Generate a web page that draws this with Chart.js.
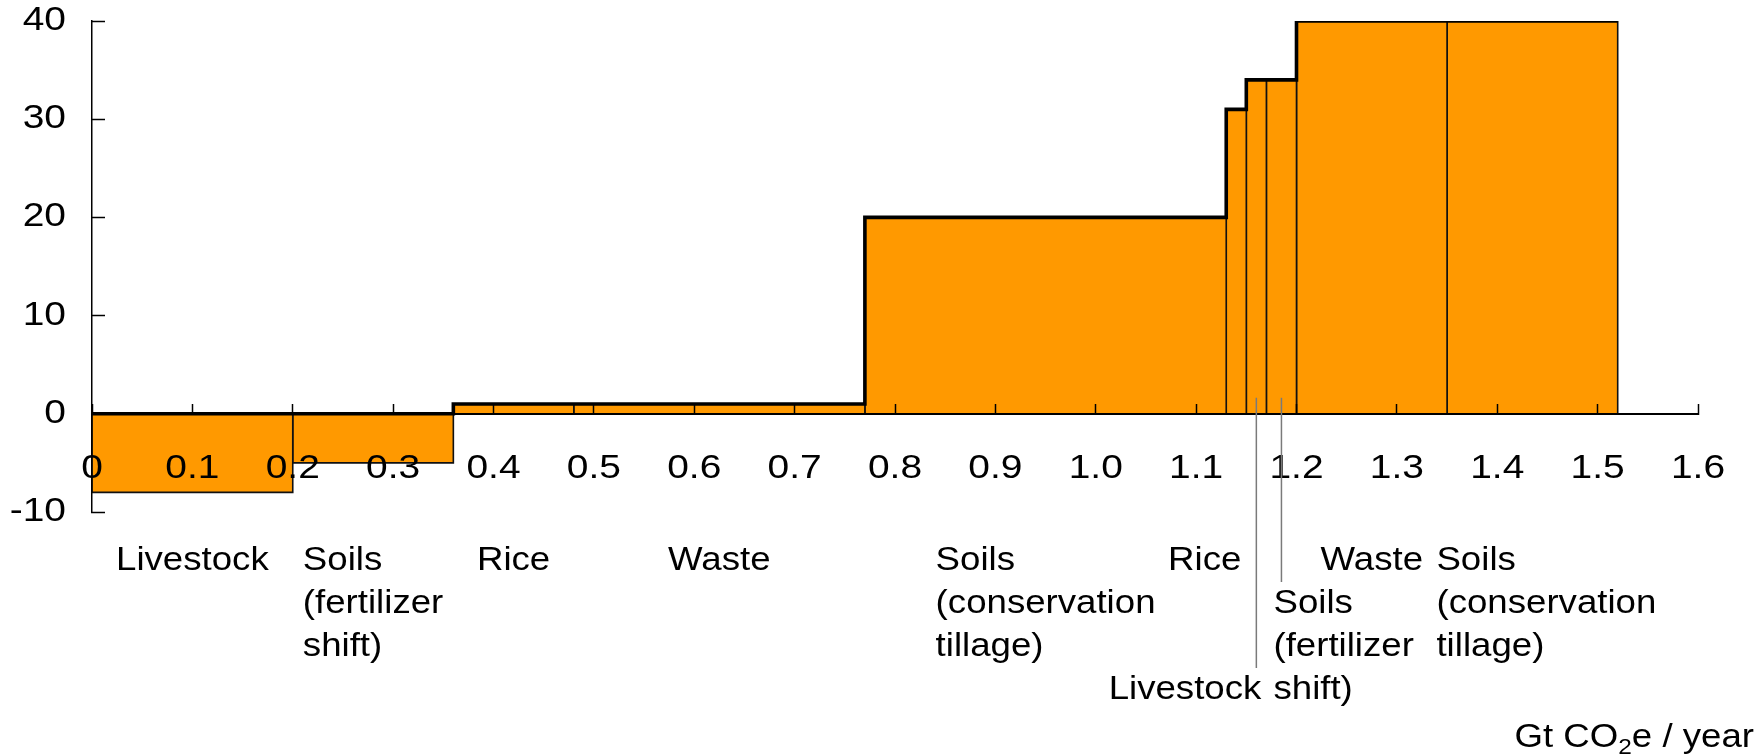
<!DOCTYPE html>
<html>
<head>
<meta charset="utf-8">
<script src="https://cdn.jsdelivr.net/npm/chart.js@4.4.1/dist/chart.umd.min.js"></script>
<style>
  html, body { margin: 0; padding: 0; background: #ffffff; }
  #wrap { width: 1756px; height: 756px; }
</style>
</head>
<body>
<div id="wrap"><canvas id="mac" width="1756" height="756"></canvas></div>
<script>
// Abatement options, in the order they are stacked along the curve
const categories = ['Livestock', 'Soils (fertilizer shift)', 'Rice', 'Waste', 'Soils (conservation tillage)',
                    'Rice', 'Livestock', 'Soils (fertilizer shift)', 'Waste', 'Soils (conservation tillage)'];
// How each option name is broken into lines under the curve
const labelLines = [['Livestock'], ['Soils', '(fertilizer', 'shift)'], ['Rice'], ['Waste'],
                    ['Soils', '(conservation', 'tillage)'], ['Rice'], ['Livestock'],
                    ['Soils', '(fertilizer', 'shift)'], ['Waste'], ['Soils', '(conservation', 'tillage)']];
// Abatement potential of each option, Gt CO2e / year (bar widths)
const potentials = [0.20, 0.16, 0.12, 0.29, 0.36, 0.02, 0.02, 0.03, 0.15, 0.17];
// Cost of each option (bar heights)
const costs = [-8, -5, 1, 1, 20, 31, 34, 34, 40, 40];
// Axis tick labels
const xTickLabels = ['0', '0.1', '0.2', '0.3', '0.4', '0.5', '0.6', '0.7', '0.8', '0.9',
                     '1.0', '1.1', '1.2', '1.3', '1.4', '1.5', '1.6'];
const yTickLabels = ['-10', '0', '10', '20', '30', '40'];

// Where each label sits: text row, horizontal placement and whether it needs a leader line
const labelLayout = [
  { row: 0, mode: 'block' },
  { row: 0, mode: 'block' },
  { row: 0, mode: 'block' },
  { row: 0, mode: 'block' },
  { row: 0, mode: 'block' },
  { row: 0, mode: 'right', ref: 'end', dx: -5 },
  { row: 3, mode: 'right', ref: 'center', dx: 5, leader: true },
  { row: 1, mode: 'left', ref: 'center', dx: -8, leader: true },
  { row: 0, mode: 'block' },
  { row: 0, mode: 'block', dx: 14 }
];

// Cumulative start / end of every bar along the x axis
const starts = [];
const ends = [];
potentials.reduce((acc, w, i) => { starts[i] = acc; ends[i] = acc + w; return acc + w; }, 0);

const FONT = '"Liberation Sans", Arial, Helvetica, sans-serif';
const ORANGE = '#FF9900';
const LABEL_WIDEN = 1.11;   // horizontal stretch of the option names
const TICK_WIDEN = 1.18;    // horizontal stretch of the axis numbers

// One filled rectangle per option
const barSets = costs.map((c, i) => ({
  label: categories[i],
  data: [
    { x: starts[i], y: 0 },
    { x: starts[i], y: c },
    { x: ends[i], y: c },
    { x: ends[i], y: 0 }
  ],
  borderColor: '#111111',
  borderWidth: 1.6,
  backgroundColor: ORANGE,
  fill: 'origin',
  pointRadius: 0,
  tension: 0,
  borderJoinStyle: 'miter',
  order: 1
}));

// Heavy outline tracing the top of the curve (never below zero)
const outline = [];
costs.forEach((c, i) => {
  const h = Math.max(c, 0);
  outline.push({ x: starts[i], y: h }, { x: ends[i], y: h });
});

const datasets = barSets.concat([{
  label: 'curve',
  data: outline,
  borderColor: '#000000',
  borderWidth: 3.6,
  fill: false,
  pointRadius: 0,
  tension: 0,
  borderJoinStyle: 'miter',
  borderCapStyle: 'butt',
  order: 0
}]);

// Draws a scale's tick labels slightly widened, each around its own anchor
function widenTickLabels(scale, sx) {
  if (scale.$widened) return;
  scale.$widened = true;
  const baseItems = scale.getLabelItems;
  const baseDraw = scale.drawLabels;
  scale.getLabelItems = function (area) {
    return baseItems.call(this, area).map(it => {
      if (!it.options || !it.options.translation) return it;
      const tr = it.options.translation;
      return Object.assign({}, it, {
        options: Object.assign({}, it.options, { translation: [tr[0] / sx, tr[1]] })
      });
    });
  };
  scale.drawLabels = function (area) {
    this.ctx.save();
    this.ctx.scale(sx, 1);
    baseDraw.call(this, area);
    this.ctx.restore();
  };
}

// Text drawn with a horizontal stretch, left edge at x
function wideText(ctx, text, x, y, sx) {
  ctx.save();
  ctx.translate(x, y);
  ctx.scale(sx, 1);
  ctx.fillText(text, 0, 0);
  ctx.restore();
}

// Option names, leader lines and the unit caption under the plot
const labelPlugin = {
  id: 'optionLabels',
  afterDraw(chart) {
    const { ctx } = chart;
    const xs = chart.scales.x;
    const ys = chart.scales.y;
    const firstRow = ys.getPixelForValue(ys.min) + 58;
    const rowGap = 43;
    const zeroPx = ys.getPixelForValue(0);
    ctx.save();
    ctx.font = '33px ' + FONT;
    ctx.fillStyle = '#000000';
    ctx.textBaseline = 'alphabetic';
    ctx.textAlign = 'left';
    const wOf = t => ctx.measureText(t).width * LABEL_WIDEN;

    labelLines.forEach((lines, i) => {
      const lay = labelLayout[i];
      const centerPx = xs.getPixelForValue((starts[i] + ends[i]) / 2);
      const endPx = xs.getPixelForValue(ends[i]);
      const dx = lay.dx || 0;
      const baseY = firstRow + lay.row * rowGap;

      if (lay.leader) {
        ctx.save();
        ctx.strokeStyle = '#7a7a7a';
        ctx.lineWidth = 1.5;
        ctx.beginPath();
        ctx.moveTo(centerPx, zeroPx - 16);
        ctx.lineTo(centerPx, baseY - 31);
        ctx.stroke();
        ctx.restore();
      }

      if (lay.mode === 'block') {
        const w = Math.max(...lines.map(wOf));
        const left = centerPx - w / 2 + dx;
        lines.forEach((t, k) => wideText(ctx, t, left, baseY + k * rowGap, LABEL_WIDEN));
      } else {
        const refPx = (lay.ref === 'end' ? endPx : centerPx) + dx;
        lines.forEach((t, k) => {
          const left = lay.mode === 'right' ? refPx - wOf(t) : refPx;
          wideText(ctx, t, left, baseY + k * rowGap, LABEL_WIDEN);
        });
      }
    });

    // Unit caption with subscript, right-aligned to the canvas edge
    const capY = ys.getPixelForValue(ys.min) + 235;
    const parts = [
      { t: 'Gt CO', f: '33px ' + FONT, dy: 0 },
      { t: '2', f: '22px ' + FONT, dy: 7 },
      { t: 'e / year', f: '33px ' + FONT, dy: 0 }
    ];
    let total = 0;
    parts.forEach(p => { ctx.font = p.f; p.w = ctx.measureText(p.t).width * LABEL_WIDEN; total += p.w; });
    let cx = chart.width - 2 - total;
    parts.forEach(p => { ctx.font = p.f; wideText(ctx, p.t, cx, capY + p.dy, LABEL_WIDEN); cx += p.w; });
    ctx.restore();
  }
};

new Chart(document.getElementById('mac'), {
  type: 'line',
  data: { datasets },
  options: {
    responsive: false,
    devicePixelRatio: 1,
    animation: false,
    layout: { padding: { left: 0, right: 58, top: 21, bottom: 244 } },
    plugins: { legend: { display: false }, tooltip: { enabled: false } },
    scales: {
      x: {
        type: 'linear',
        position: { y: 0 },
        min: 0,
        max: 1.6,
        offset: false,
        grid: { z: 1, drawOnChartArea: false, drawTicks: true, tickLength: -11, tickWidth: 1.5, tickColor: '#000000' },
        border: { z: 1, display: true, color: '#000000', width: 2 },
        ticks: {
          z: 1,
          stepSize: 0.1,
          autoSkip: false,
          maxRotation: 0,
          padding: 46,
          color: '#000000',
          font: { family: FONT, size: 33 },
          callback: (v, i) => xTickLabels[i]
        },
        afterFit: s => {
          s.height = 0; s.paddingLeft = 0; s.paddingRight = 0;
          widenTickLabels(s, TICK_WIDEN);
        }
      },
      y: {
        type: 'linear',
        position: 'left',
        min: -10,
        max: 40,
        grid: { z: 1, drawOnChartArea: false, drawTicks: true, tickLength: -13, tickWidth: 1.5, tickColor: '#000000' },
        border: { z: 1, display: true, color: '#000000', width: 1.5 },
        ticks: {
          z: 1,
          stepSize: 10,
          padding: 39,
          color: '#000000',
          font: { family: FONT, size: 33 },
          callback: (v, i) => yTickLabels[i]
        },
        afterFit: s => {
          s.width = 92; s.paddingTop = 0; s.paddingBottom = 0;
          widenTickLabels(s, TICK_WIDEN);
        }
      }
    }
  },
  plugins: [labelPlugin]
});
</script>
</body>
</html>
